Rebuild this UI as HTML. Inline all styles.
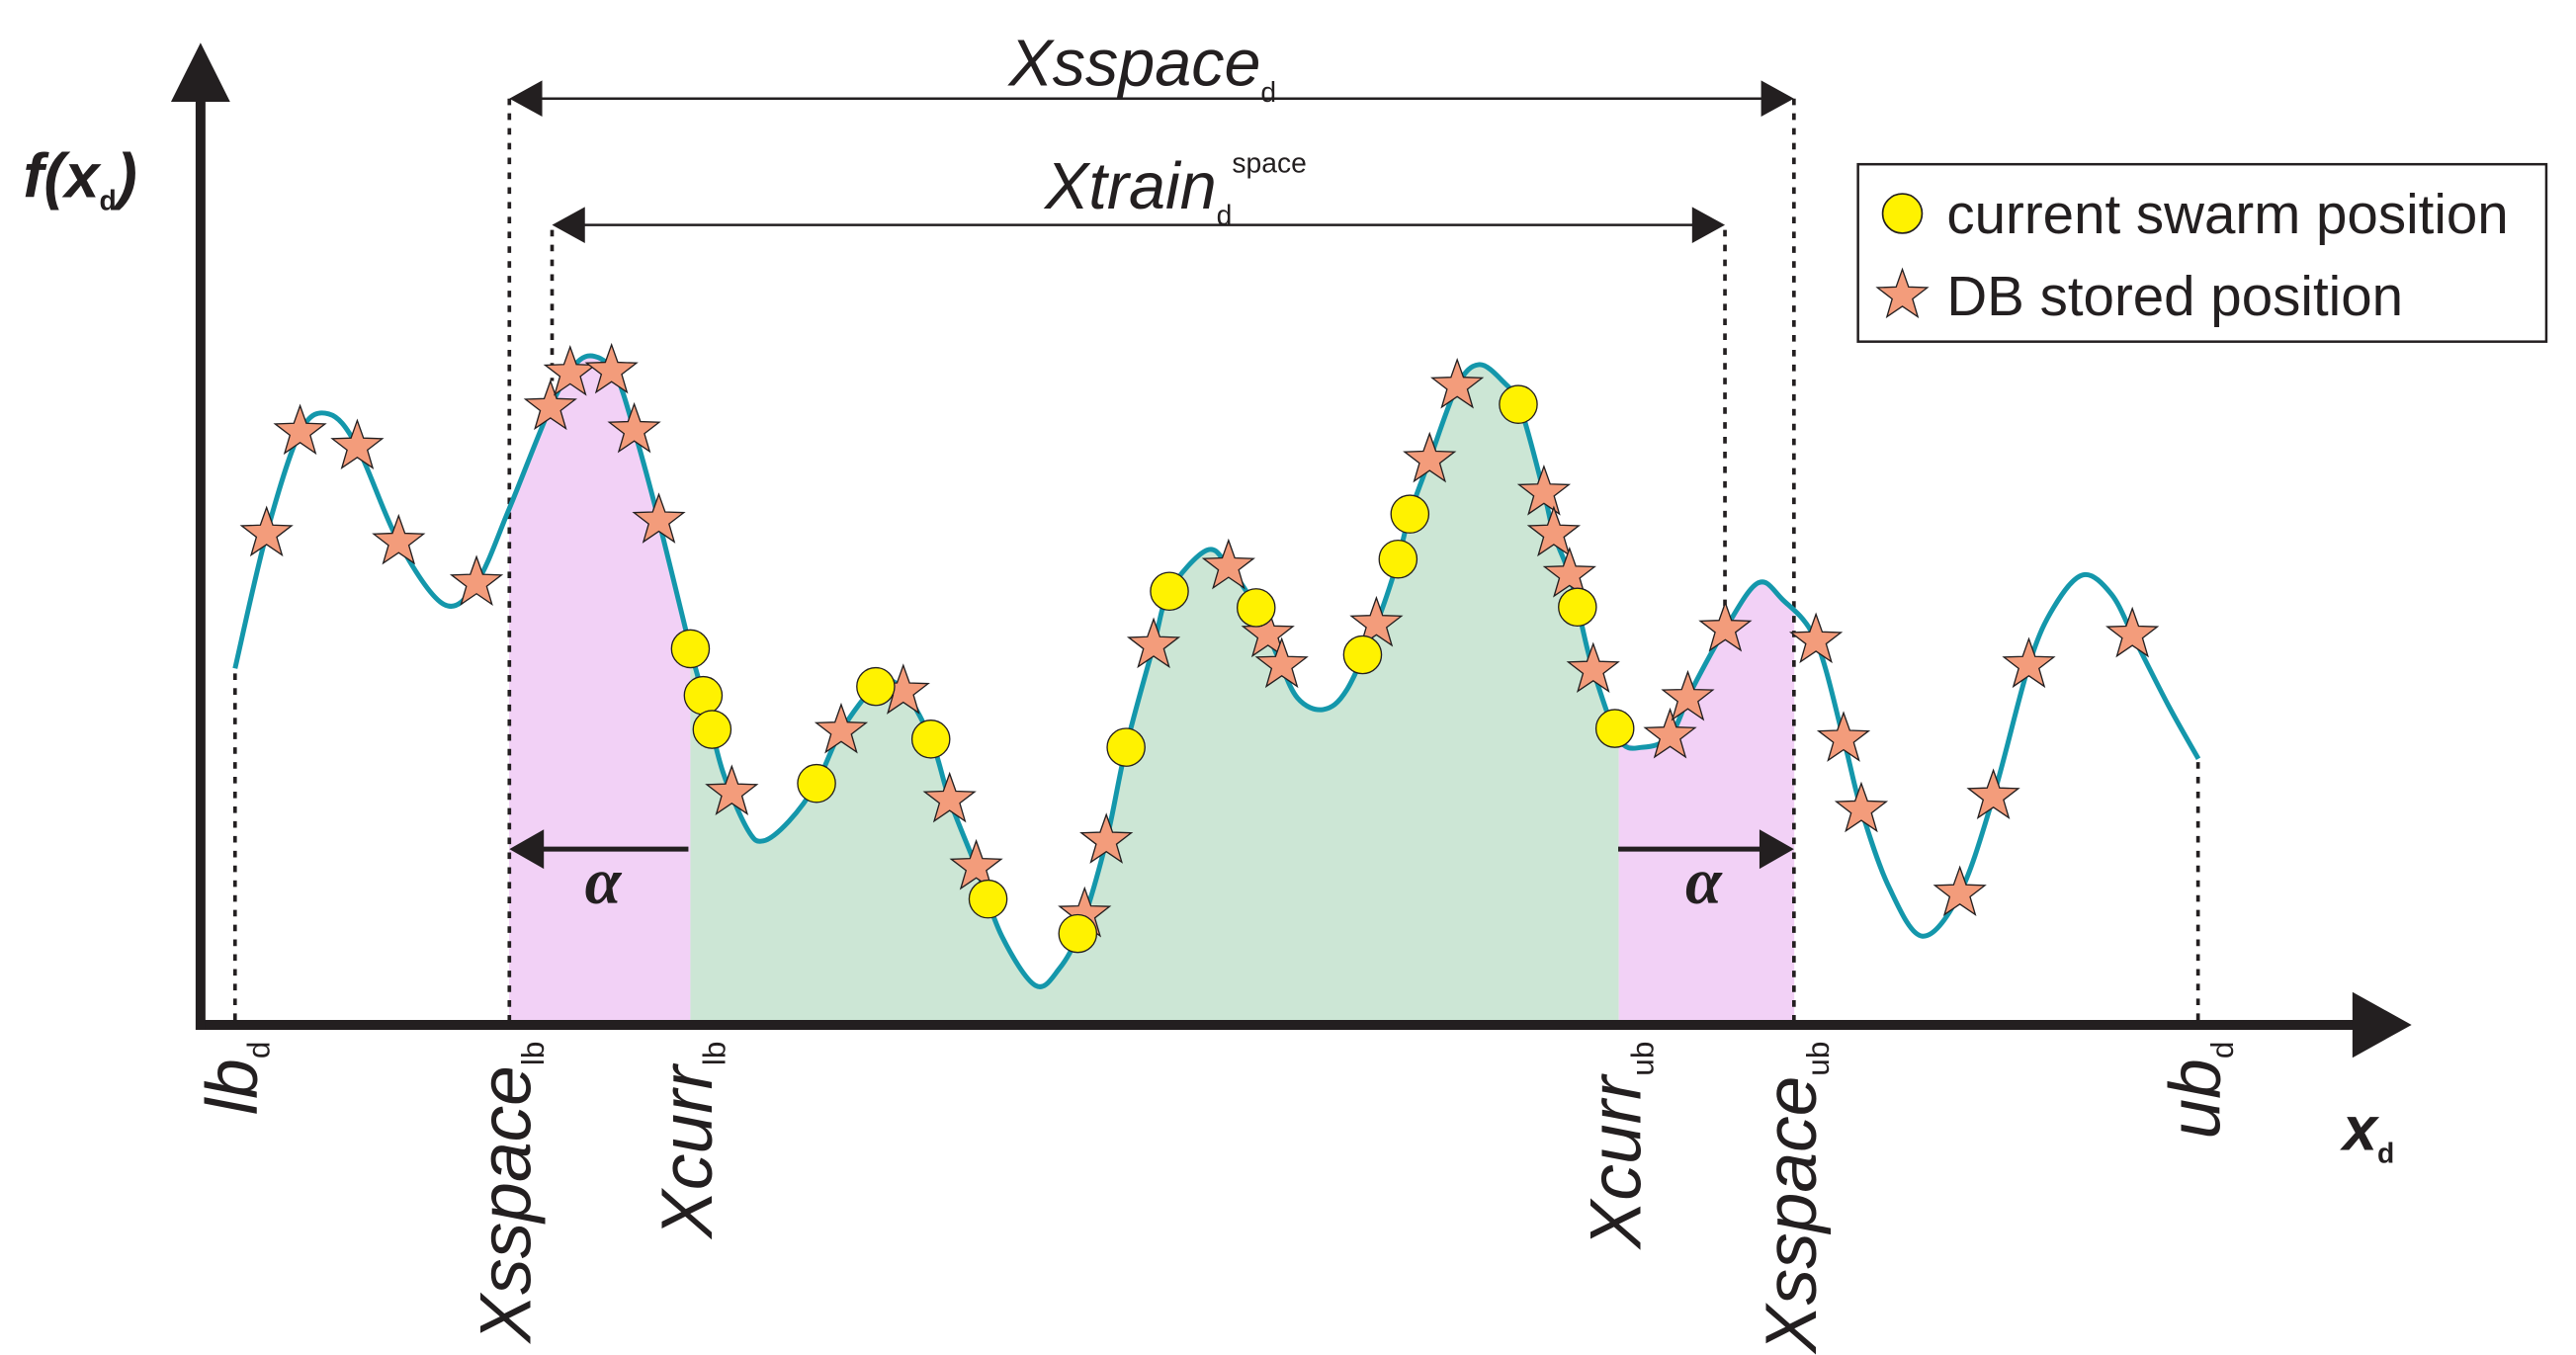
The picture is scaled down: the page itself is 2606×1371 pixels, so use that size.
<!DOCTYPE html>
<html><head><meta charset="utf-8"><style>
html,body{margin:0;padding:0;background:#fff;}
svg{display:block;}
text{font-family:"Liberation Sans",sans-serif;fill:#231f20;}
</style></head><body>
<svg id="chart" width="2606" height="1371" viewBox="0 0 1568 825" xmlns="http://www.w3.org/2000/svg">
<g id="fills"></g>
<g id="dashes" stroke="#231f20" stroke-width="2.2" stroke-dasharray="4,5" fill="none">
<line x1="143" y1="410" x2="143" y2="622"/>
<line x1="310" y1="60" x2="310" y2="622"/>
<line x1="336" y1="140" x2="336" y2="232"/>
<line x1="1050" y1="140" x2="1050" y2="380"/>
<line x1="1092" y1="60" x2="1092" y2="622"/>
<line x1="1338" y1="464" x2="1338" y2="622"/>
</g>
<path id="curve" fill="none" stroke="#1497ab" stroke-width="3"/>
<g id="marks"></g>
<line x1="120" y1="624" x2="1440" y2="624" stroke="#231f20" stroke-width="6"/>
<polygon points="1432,604 1468,624 1432,644" fill="#231f20"/>
<line x1="122" y1="627" x2="122" y2="55" stroke="#231f20" stroke-width="6"/>
<polygon points="104,62 122,26 140,62" fill="#231f20"/>
<line x1="325" y1="60" x2="1077" y2="60" stroke="#231f20" stroke-width="1.5"/>
<polygon points="310,60 330,49 330,71" fill="#231f20"/>
<polygon points="1092,60 1072,49 1072,71" fill="#231f20"/>
<text x="614" y="52" font-size="40" font-style="italic">Xsspace<tspan font-size="17" font-style="normal" dy="10">d</tspan></text>
<line x1="350" y1="137" x2="1036" y2="137" stroke="#231f20" stroke-width="1.5"/>
<polygon points="336,137 356,126 356,148" fill="#231f20"/>
<polygon points="1050,137 1030,126 1030,148" fill="#231f20"/>
<text x="636" y="127" font-size="40" font-style="italic">Xtrain<tspan font-size="17" font-style="normal" dy="10">d</tspan><tspan font-size="17" font-style="normal" dy="-32">space</tspan></text>
<line x1="419" y1="517" x2="325" y2="517" stroke="#231f20" stroke-width="3"/>
<polygon points="310,517 331,505 331,529" fill="#231f20"/>
<text x="367" y="550" font-size="40" font-weight="bold" font-style="italic" text-anchor="middle" style="font-family:'Liberation Serif',serif">α</text>
<line x1="985" y1="517" x2="1077" y2="517" stroke="#231f20" stroke-width="3"/>
<polygon points="1092,517 1071,505 1071,529" fill="#231f20"/>
<text x="1037" y="550" font-size="40" font-weight="bold" font-style="italic" text-anchor="middle" style="font-family:'Liberation Serif',serif">α</text>
<text x="14" y="120" font-size="38" font-weight="bold" font-style="italic">f(x<tspan font-size="17" font-style="normal" dy="8">d</tspan><tspan dy="-8">)</tspan></text>
<text x="1426" y="700" font-size="38" font-weight="bold" font-style="italic">x<tspan font-size="17" font-style="normal" dy="8">d</tspan></text>
<g id="ticks" font-size="44" font-style="italic"></g>
<g>
<rect x="1131" y="100" width="419" height="108" fill="#fff" stroke="#231f20" stroke-width="1.5"/>
<ellipse cx="1158" cy="130" rx="12" ry="12" fill="#fff200" stroke="#231f20" stroke-width="1"/>
<text x="1185" y="142" font-size="34">current swarm position</text>
<g id="legstar"></g>
<text x="1185" y="192" font-size="34">DB stored position</text>
</g>
</svg>
<script>
const curveX=[0,1.6,3.3,4.75,6.2,8.3,10.6,12.25,13.9,16,17.25,18.25,19.3,20.25,21.5,23.1,23.9,24.75,26,26.8,28.1,29.5,30.75,32.5,33.75,35.3,36.25,37.6,38.9,40.6,41.8,42.9,44.2,45.2,46.6,47.4,49.3,50.4,51.8,52.9,53.9,55.2,56.4,57.9,58.9,59.6,60.6,62,63.1,64.3,65.2,66.4,66.9,67.7,68.25,68.9,70.2,71.4,72.8,73.9,75.6,77.25,78.5,80.2,81.6,82.5,83.9,85.6,87.5,89.2,91,92.25,93.75,95.2,96.4,98.1,99.6];
const curveY=[54.5,75,90.5,93.25,88.25,73.75,64.25,67.5,78.75,94.25,100.75,102,99.25,90.75,77,57.5,48.75,38.75,30,28.25,31.25,37,45,51.75,51.75,43.75,34.5,24.25,13.75,6.25,8.75,15,28.25,42.5,58,66.25,72.5,70,63.75,56.25,50,48.25,51.25,61.25,70,78,86.25,97.5,100.75,98.25,94.25,81.25,75,68.75,62,54.25,43.75,42.5,44.25,51.25,60.5,67.5,65,58.75,43.75,33,21.25,13.75,20.25,35,55,63.75,68.75,65.75,58.75,48.75,40.75];
const starX=[1.6,3.3,6.2,8.3,12.25,16,17,19.1,20.25,21.5,25.2,30.75,33.9,36.25,37.6,43.1,44.2,46.6,50.4,52.4,53.1,57.9,60.6,62,66.4,66.9,67.7,68.9,72.8,73.7,75.6,80.2,81.6,82.5,87.5,89.2,91,96.25];
const circleX=[23.1,23.75,24.2,29.5,32.5,35.3,38.2,42.75,45.2,47.4,51.8,57.2,59,59.6,65.1,68.1,70];
const regionBounds=[13.9,23.1,70.2,79.1];
const tickPos=[0,13.9,23.1,70.2,79.1,99.6];
const tickMain=["lb","Xsspace","Xcurr","Xcurr","Xsspace","ub"];
const tickSub=["d","lb","lb","ub","ub","d"];
const NS="http://www.w3.org/2000/svg";
const xS=v=>143+v*12, yS=v=>625-v*4;
function f(x){for(let i=0;i<curveX.length-1;i++){if(x<=curveX[i+1]){const t=(x-curveX[i])/(curveX[i+1]-curveX[i]);return curveY[i]+t*(curveY[i+1]-curveY[i]);}}return curveY[curveY.length-1];}
function smoothPath(px,py){let d="M"+px[0]+","+py[0];for(let i=0;i<px.length-1;i++){const p0=i>0?i-1:i,p3=i+2<px.length?i+2:i+1;const c1x=px[i]+(px[i+1]-px[p0])/6,c1y=py[i]+(py[i+1]-py[p0])/6;const c2x=px[i+1]-(px[p3]-px[i])/6,c2y=py[i+1]-(py[p3]-py[i])/6;d+=" C"+c1x+","+c1y+" "+c2x+","+c2y+" "+px[i+1]+","+py[i+1];}return d;}
const PX=curveX.map(xS),PY=curveY.map(yS);
document.getElementById('curve').setAttribute('d',smoothPath(PX,PY));
const fills=document.getElementById('fills');
function region(a,b,color,name){const xs=[a],ys=[f(a)];curveX.forEach((x,i)=>{if(x>a&&x<b){xs.push(x);ys.push(curveY[i]);}});xs.push(b);ys.push(f(b));
let d=smoothPath(xs.map(xS),ys.map(yS));d+=" L"+xS(b)+",622 L"+xS(a)+",622 Z";
const p=document.createElementNS(NS,'path');p.setAttribute('d',d);p.setAttribute('fill',color);


fills.appendChild(p);}
region(regionBounds[0],regionBounds[1],'#f2d1f6','pink-region-left');
region(regionBounds[1],regionBounds[2],'#cce6d5','green-region');
region(regionBounds[2],regionBounds[3],'#f2d1f6','pink-region-right');
function starPts(cx,cy,R,r){let s=[];for(let i=0;i<10;i++){const a=-Math.PI/2+i*Math.PI/5,rr=i%2?r:R;s.push((cx+rr*Math.cos(a)).toFixed(1)+","+(cy+rr*Math.sin(a)).toFixed(1));}return s.join(" ");}
const marks=document.getElementById('marks');
starX.forEach(x=>{const s=document.createElementNS(NS,'polygon');s.setAttribute('points',starPts(xS(x),yS(f(x)),16,6.5));s.setAttribute('fill','#f39c7b');s.setAttribute('stroke','#231f20');s.setAttribute('stroke-width','0.8');


marks.appendChild(s);});
circleX.forEach(x=>{const c=document.createElementNS(NS,'circle');c.setAttribute('cx',xS(x));c.setAttribute('cy',yS(f(x)));c.setAttribute('r','11.5');c.setAttribute('fill','#fff200');c.setAttribute('stroke','#231f20');c.setAttribute('stroke-width','0.8');


marks.appendChild(c);});
const ls=document.createElementNS(NS,'polygon');ls.setAttribute('points',starPts(1158,180,16,6.5));ls.setAttribute('fill','#f39c7b');ls.setAttribute('stroke','#231f20');ls.setAttribute('stroke-width','0.8');
document.getElementById('legstar').appendChild(ls);
const ticks=document.getElementById('ticks');
tickPos.forEach((v,i)=>{const t=document.createElementNS(NS,'text');const x=xS(v)+13;t.setAttribute('transform','translate('+x+',634) rotate(-90)');t.setAttribute('text-anchor','end');


t.textContent=tickMain[i];const s=document.createElementNS(NS,'tspan');s.setAttribute('font-size','19');s.setAttribute('font-style','normal');s.setAttribute('dy','8');s.textContent=tickSub[i];t.appendChild(s);ticks.appendChild(t);});
</script>
</body></html>
